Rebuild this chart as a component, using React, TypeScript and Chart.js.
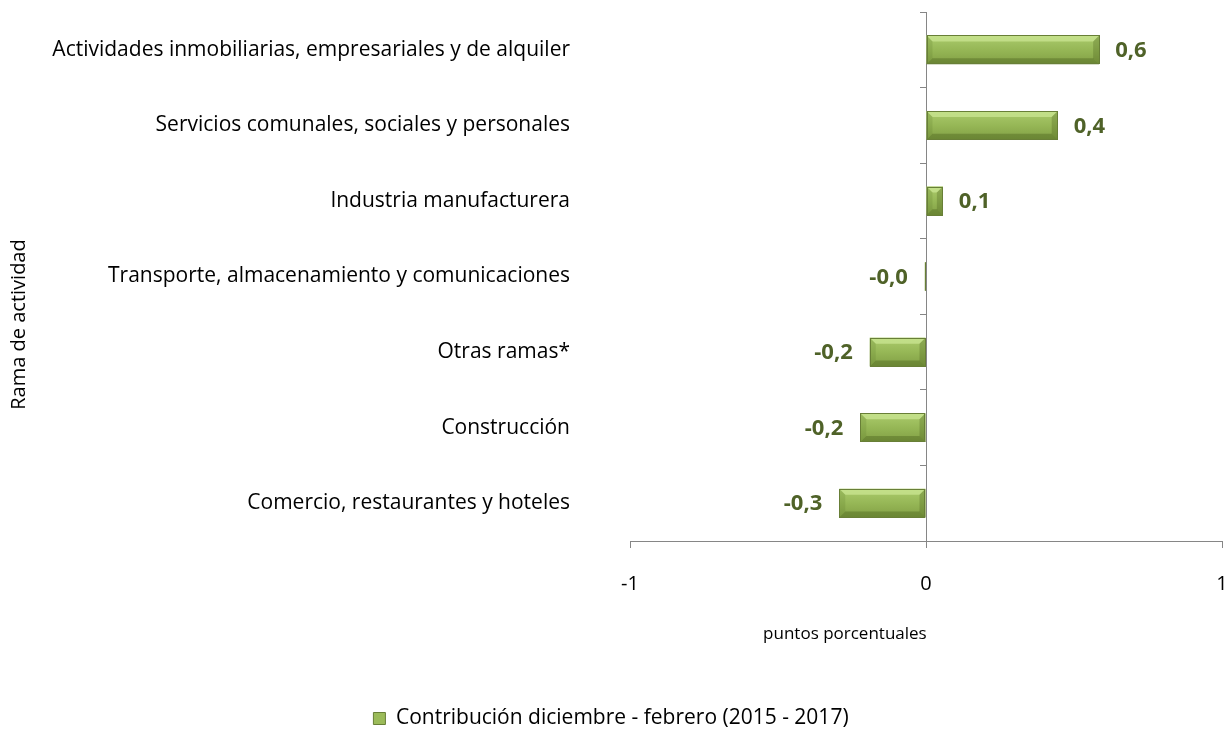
import React, { useEffect, useRef } from "react";
import { Chart, registerables } from "chart.js";

Chart.register(...registerables);

const categories = [
  "Actividades inmobiliarias, empresariales y de alquiler",
  "Servicios comunales, sociales y personales",
  "Industria manufacturera",
  "Transporte, almacenamiento y comunicaciones",
  "Otras ramas*",
  "Construcción",
  "Comercio, restaurantes y hoteles",
];
const contribution = [0.585, 0.445, 0.057, -0.004, -0.19, -0.222, -0.293];
const seriesName = "Contribución diciembre - febrero (2015 - 2017)";
const xTitle = "puntos porcentuales";
const yTitle = "Rama de actividad";

const FONT = "'Open Sans', sans-serif";
const AXIS = "#868686";

const bevelPlugin = {
  id: "bevelBars",
  afterDatasetsDraw(chart: any) {
    const ctx = chart.ctx;
    const meta = chart.getDatasetMeta(0);
    ctx.save();
    meta.data.forEach((bar: any, i: number) => {
      const p = bar.getProps(["x", "y", "base", "height"], true);
      const l = Math.min(p.x, p.base);
      const r = Math.max(p.x, p.base);
      const t = p.y - p.height / 2;
      const b = p.y + p.height / 2;
      const w = r - l;
      const h = b - t;
      const g = ctx.createLinearGradient(0, t, 0, b);
      g.addColorStop(0, "#abcb6c");
      g.addColorStop(0.5, "#96b756");
      g.addColorStop(1, "#819f44");
      ctx.fillStyle = g;
      ctx.fillRect(l, t, w, h);
      const bv = Math.min(6, w / 2, h / 2);
      const poly = (pts: number[][], c: string) => {
        ctx.beginPath();
        ctx.moveTo(pts[0][0], pts[0][1]);
        for (let k = 1; k < pts.length; k++) ctx.lineTo(pts[k][0], pts[k][1]);
        ctx.closePath();
        ctx.fillStyle = c;
        ctx.fill();
      };
      poly([[l, t], [r, t], [r - bv, t + bv], [l + bv, t + bv]], "rgba(205,232,150,0.7)");
      poly([[l, b], [r, b], [r - bv, b - bv], [l + bv, b - bv]], "rgba(60,80,20,0.32)");
      poly([[l, t], [l + bv, t + bv], [l + bv, b - bv], [l, b]], "rgba(90,120,40,0.2)");
      poly([[r, t], [r - bv, t + bv], [r - bv, b - bv], [r, b]], "rgba(60,80,20,0.26)");
      ctx.strokeStyle = "#687f37";
      ctx.lineWidth = 1;
      ctx.strokeRect(Math.round(l) + 0.5, Math.round(t) + 0.5, Math.max(0, Math.round(w) - 1), Math.round(h) - 1);

      const v = contribution[i];
      const txt = v.toFixed(1).replace(".", ",");
      ctx.font = `bold 22px ${FONT}`;
      ctx.fillStyle = "#4f6228";
      ctx.textBaseline = "middle";
      if (v >= 0) {
        ctx.textAlign = "left";
        ctx.fillText(txt, r + 16, p.y + 1);
      } else {
        ctx.textAlign = "right";
        ctx.fillText(txt, l - 17, p.y + 1);
      }
    });
    ctx.restore();
  },
};

const titlesPlugin = {
  id: "axisTitles",
  afterDraw(chart: any) {
    const ctx = chart.ctx;
    const ca = chart.chartArea;
    ctx.save();
    ctx.fillStyle = "#000";
    ctx.textAlign = "center";
    ctx.textBaseline = "middle";
    // x title
    ctx.font = `17px ${FONT}`;
    ctx.fillText(xTitle, ca.left + (ca.right - ca.left) * 0.363, ca.bottom + 93);
    // y title
    ctx.translate(19, (ca.top + ca.bottom) / 2 + 48);
    ctx.rotate(-Math.PI / 2);
    ctx.font = `20px ${FONT}`;
    ctx.fillText(yTitle, 0, 0);
    ctx.restore();
  },
};

export default function App() {
  const ref = useRef<HTMLCanvasElement>(null);
  useEffect(() => {
    if (!ref.current) return;
    const chart = new Chart(ref.current, {
      type: "bar",
      data: {
        labels: categories,
        datasets: [
          {
            label: seriesName,
            data: contribution,
            backgroundColor: "#9bbb59",
            borderColor: "#687f37",
            borderWidth: 1,
            barPercentage: 0.38,
            categoryPercentage: 1,
            yAxisID: "y",
          },
        ],
      },
      options: {
        indexAxis: "y",
        animation: false,
        responsive: false,
        maintainAspectRatio: false,
        layout: { padding: { top: 12, right: 2, left: 0, bottom: -4 } },
        scales: {
          x: {
            type: "linear",
            min: -1,
            max: 1,
            ticks: {
              stepSize: 1,
              font: { family: FONT, size: 20 },
              color: "#000",
              padding: 24,
            },
            grid: { drawOnChartArea: false, drawTicks: true, tickLength: 7, color: AXIS },
            border: { display: true, color: AXIS, width: 1 },
            afterFit(scale: any) {
              scale.paddingLeft = 0;
              scale.paddingRight = 0;
              scale.height += 84;
            },
          },
          y: {
            type: "category",
            position: "left",
            offset: true,
            grid: { display: false, drawTicks: false },
            border: { display: false },
            ticks: { font: { family: FONT, size: 21 }, color: "#000", padding: 60 },
            afterFit(scale: any) {
              scale.width = 630;
              scale.paddingTop = 0;
              scale.paddingBottom = 0;
            },
          },
          y2: {
            type: "category",
            position: { x: 0 } as any,
            offset: true,
            grid: { offset: true, drawOnChartArea: false, drawTicks: true, tickLength: 6, color: AXIS },
            border: { display: true, color: AXIS, width: 1 },
            ticks: { display: false },
          },
        },
        plugins: {
          legend: {
            display: true,
            position: "bottom",
            labels: {
              font: { family: FONT, size: 21 },
              color: "#000",
              boxWidth: 12,
              boxHeight: 12,
              padding: 4,
            },
          },
          tooltip: { enabled: false },
        },
      } as any,
      plugins: [bevelPlugin, titlesPlugin],
    });
    return () => chart.destroy();
  }, []);
  return (
    <div style={{ position: "absolute", left: 0, top: 0, width: 1224, height: 735, background: "#fff" }}>
      <canvas ref={ref} width={1224} height={735} style={{ width: 1224, height: 735 }} />
    </div>
  );
}
